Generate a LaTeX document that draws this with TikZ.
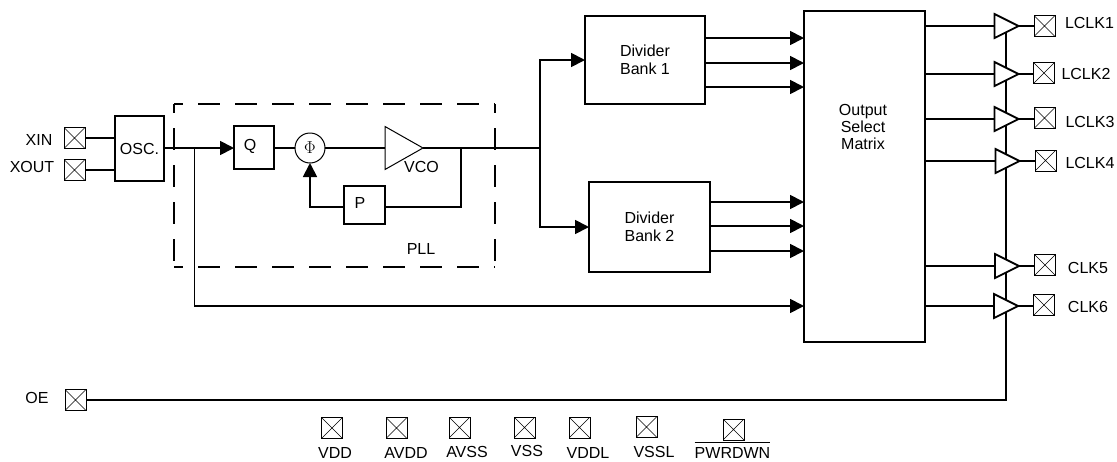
\documentclass[tikz,border=0pt]{standalone}
\usepackage{fontspec}
\setmainfont{Liberation Sans}
\usetikzlibrary{arrows.meta,shapes.geometric}
\begin{document}
\begin{tikzpicture}[
                x=1pt,y=-1pt,
                every path/.append style={black,line width=1.8pt},
                every node/.append style={black,font=\fontsize{16}{17}\selectfont,inner sep=0pt,outer sep=0pt},
                flow/.style={-{Triangle[length=14pt,width=14pt]}},
                blockbox/.style={draw,rectangle,align=center},
                padbox/.style={draw,line width=0.8pt,rectangle,minimum width=21pt,minimum height=21pt,
                    path picture={\draw[line width=0.6pt] (path picture bounding box.north west) -- (path picture bounding box.south east)
                        (path picture bounding box.north east) -- (path picture bounding box.south west);}},
                bufshape/.style={draw,fill=white,isosceles triangle,isosceles triangle stretches,shape border rotate=0,anchor=lower side,minimum width=24pt,minimum height=24pt},
                pllline/.style={dash pattern=on 22pt off 15pt,dash phase=13pt},
                pinlabel/.style={anchor=center}
            ]
                \useasboundingbox (0,0) rectangle (1117,461);
                % input side
                \node[padbox] (xinpad) at (74.5,138) {};
                \node[padbox] (xoutpad) at (74.5,170) {};
                \node[padbox] (oepad) at (75.5,400) {};
                \node[pinlabel] (xinlabel) at (39,140) {XIN};
                \node[pinlabel] (xoutlabel) at (32,167) {XOUT};
                \node[pinlabel] (oelabel) at (37,398) {OE};
                \node[blockbox,minimum width=49pt,minimum height=65pt] (osc) at (139.5,148.5) {OSC.};
                \draw (xinpad) -- (osc.west |- xinpad);
                \draw (xoutpad) -- (osc.west |- xoutpad);
                % PLL
                \node[rectangle,minimum width=321pt,minimum height=163pt] (pllbox) at (334.5,185.5) {};
                \draw[pllline] (pllbox.north west) -- (pllbox.north east);
                \draw[pllline] (pllbox.south west) -- (pllbox.south east);
                \draw[pllline] (pllbox.north west) -- (pllbox.south west);
                \draw[pllline] (pllbox.north east) -- (pllbox.south east);
                \node[pinlabel] (plllabel) at (421,249) {PLL};
                \node[blockbox,minimum width=40pt,minimum height=43pt] (qbox) at (254,147.5) {};
                \node[pinlabel] (qlabel) at (250,146) {Q};
                \node[draw,circle,line width=1pt,minimum size=30pt,font=\fontsize{18}{18}\selectfont] (phi) at (310,148) {$\Phi$};
                \node[bufshape,line width=1pt,minimum width=43pt,minimum height=38pt] (vco) at (385,148) {};
                \node[pinlabel] (vcolabel) at (421.5,167) {VCO};
                \node[blockbox,minimum width=41pt,minimum height=38pt] (pbox) at (364.5,205) {};
                \node[pinlabel] (plabel) at (360,203) {P};
                \coordinate (fork) at (194.5,148);
                \coordinate (split) at (540,148);
                \coordinate (tap) at (461,148);
                \coordinate (pfb) at (461,207);
                \draw[flow] (osc.east |- fork) -- (qbox.west |- fork);
                \draw (qbox.east |- phi) -- (phi);
                \draw (phi) -- (vco.lower side);
                \draw (vco.apex) -- (split);
                \draw (tap) -- (pfb) -- (pbox.east |- pfb);
                \draw[flow] (pbox.west |- pfb) -| (phi.south);
                % dividers and matrix
                \node[blockbox,minimum width=120pt,minimum height=88pt] (diva) at (645,60) {Divider\\[1pt]Bank 1};
                \node[blockbox,minimum width=121pt,minimum height=90pt] (divb) at (649.5,227) {Divider\\[1pt]Bank 2};
                \node[blockbox,minimum width=121pt,minimum height=331pt] (matrix) at (864.5,176.5) {};
                \node[align=center] (matrixlabel) at (863,127) {Output\\Select\\Matrix};
                \draw[flow] (split) |- (diva.west);
                \draw[flow] (split) |- (divb.west);
                \draw[flow] (fork) |- (matrix.west |- 0,306);
                \foreach \outy in {38,63,87} {
                    \draw[flow] (diva.east |- 0,\outy) -- (matrix.west |- 0,\outy);
                }
                \foreach \outy in {202,226,251} {
                    \draw[flow] (divb.east |- 0,\outy) -- (matrix.west |- 0,\outy);
                }
                % enable line under the buffers
                \coordinate (enabletop) at (1006,30);
                \coordinate (enablecorner) at (1006,400);
                \draw (oepad) -- (enablecorner) -- (enabletop);
                % outputs
                \node[bufshape] (bufa) at (994.5,26) {};
                \node[bufshape] (bufb) at (994.5,74) {};
                \node[bufshape] (bufc) at (994.5,119) {};
                \node[bufshape] (bufd) at (995.5,161) {};
                \node[bufshape] (bufe) at (995,266) {};
                \node[bufshape] (buff) at (994,306) {};
                \node[padbox] (lclkapad) at (1044.5,26) {};
                \node[padbox] (lclkbpad) at (1044,73) {};
                \node[padbox] (lclkcpad) at (1044.5,118) {};
                \node[padbox] (lclkdpad) at (1045.5,160.5) {};
                \node[padbox] (clkepad) at (1045,265) {};
                \node[padbox] (clkfpad) at (1044,305) {};
                \node[pinlabel] (lclkalabel) at (1089.5,23) {LCLK1};
                \node[pinlabel] (lclkblabel) at (1086,74) {LCLK2};
                \node[pinlabel] (lclkclabel) at (1090,121.5) {LCLK3};
                \node[pinlabel] (lclkdlabel) at (1090,163) {LCLK4};
                \node[pinlabel] (clkelabel) at (1088,268) {CLK5};
                \node[pinlabel] (clkflabel) at (1088,306.5) {CLK6};
                \foreach \bufname/\padname in {bufa/lclkapad,bufb/lclkbpad,bufc/lclkcpad,bufd/lclkdpad,bufe/clkepad,buff/clkfpad} {
                    \draw (matrix.east |- \bufname.lower side) -- (\bufname.lower side);
                    \draw (\bufname.apex) -- (\padname.west |- \bufname.apex);
                }
                % supply pins
                \node[padbox] (vddpad) at (332,428) {};
                \node[padbox] (avddpad) at (396.5,428) {};
                \node[padbox] (avsspad) at (459.5,427.5) {};
                \node[padbox] (vsspad) at (524.5,427.5) {};
                \node[padbox] (vddlpad) at (579.5,427.5) {};
                \node[padbox] (vsslpad) at (646.5,427) {};
                \node[padbox] (pwrdwnpad) at (733.5,429.5) {};
                \node[pinlabel] (vddlabel) at (335,453) {VDD};
                \node[pinlabel] (avddlabel) at (406,453) {AVDD};
                \node[pinlabel] (avsslabel) at (467,452) {AVSS};
                \node[pinlabel] (vsslabel) at (527,451) {VSS};
                \node[pinlabel] (vddllabel) at (588,453) {VDDL};
                \node[pinlabel] (vssllabel) at (654,452) {VSSL};
                \node[pinlabel] (pwrdwnlabel) at (732.5,453) {PWRDWN};
                \draw ([yshift=5pt]pwrdwnlabel.north west) -- ([yshift=5pt]pwrdwnlabel.north east);
            \end{tikzpicture}
\end{document}
